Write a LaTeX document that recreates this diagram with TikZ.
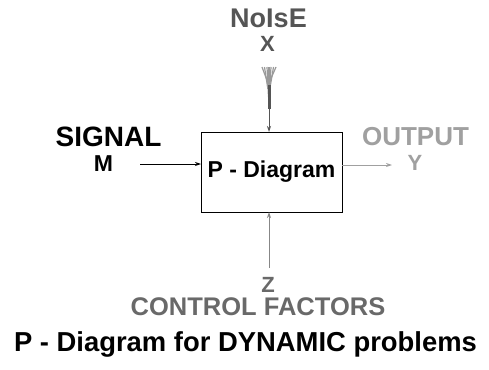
\documentclass[tikz,border=0pt]{standalone}
\usepackage{fontspec}
\setmainfont{Liberation Sans}
\usetikzlibrary{positioning,arrows.meta,calc}
\definecolor{noisecol}{RGB}{85,85,85}
\definecolor{ctrlcol}{RGB}{105,105,105}
\definecolor{outcol}{RGB}{160,160,160}

\begin{document}
\begin{tikzpicture}[
  x=1pt, y=-1pt,
  every node/.style={inner sep=0pt, outer sep=0pt},
  %% bold label, size in pt  \node[lbl=24]{...}
  lbl/.style={font=\fontsize{#1}{#1}\selectfont\bfseries, anchor=base},
  lbl/.default=24,
  %% the process block
  blk/.style={
    draw=black, line width=1pt,
    minimum width=141pt, minimum height=80pt,
    align=center
  },
  %% arrows
  arr/.style={-{Stealth[length=6pt,width=4pt]}, line width=0.9pt, color=#1},
  arr/.default=black,
]
\useasboundingbox (0,0) rectangle (489,369);

%%── P-Diagram block ─────────────────────────────────────────────────────────
\node[blk] (pd) at (271.5,172)
  {\fontsize{23}{23}\selectfont\bfseries P - Diagram};

%%── Noise (top) ─────────────────────────────────────────────────────────────
\node[lbl=27, text=noisecol] (noise) at (268.5,28) {NoIsE};
\node[lbl=22, text=noisecol] (nx)    at (267.5,52) {X};
\coordinate (nz) at (269,67);
\foreach \dx/\dl in {-7/14,-4.5/22,-2/30,2/26,4.5/20,7/12}
  \draw[line width=1.2pt, noisecol!60] ($(nz)+(\dx,0)$) -- ($(nz)+(0.25*\dx,\dl)$);
\draw[line width=1.2pt, noisecol!60] ($(nz)+(0,0)$) -- ($(nz)+(0,20)$);
\draw[line width=3pt, noisecol] ($(nz)+(0,18)$) -- ($(nz)+(0,42)$);
\draw[arr=noisecol] ($(nz)+(0,40)$) -- (nz |- pd.north);

%%── Signal (left) ───────────────────────────────────────────────────────────
\node[lbl=28] (sig) at (108.5,146.5) {SIGNAL};
\node[lbl=23] (m)   at (103.5,171.5) {M};
\coordinate (ms) at (140,164);
\draw[arr] (ms) -- (ms -| pd.west);

%%── Output (right) ──────────────────────────────────────────────────────────
\node[lbl=26, text=outcol] (out) at (415.5,145) {OUTPUT};
\node[lbl=22, text=outcol] (y)   at (415,170.5) {Y};
\coordinate (ye) at (392,165);
\draw[arr=outcol] (ye -| pd.east) -- (ye);

%%── Control factors (bottom) ────────────────────────────────────────────────
\node[lbl=22, text=ctrlcol] (z)    at (268,292) {Z};
\node[lbl=25.5, text=ctrlcol] (ctrl) at (258,315) {CONTROL FACTORS};
\coordinate (zc) at (269,268);
\draw[-{Stealth[length=6pt,width=4pt]}, line width=0.9pt, ctrlcol!80]
  (zc) -- (zc |- pd.south);

%%── Caption ─────────────────────────────────────────────────────────────────
\node[lbl=27.4] (cap) at (245.5,351) {P - Diagram for DYNAMIC problems};

\end{tikzpicture}
\end{document}
